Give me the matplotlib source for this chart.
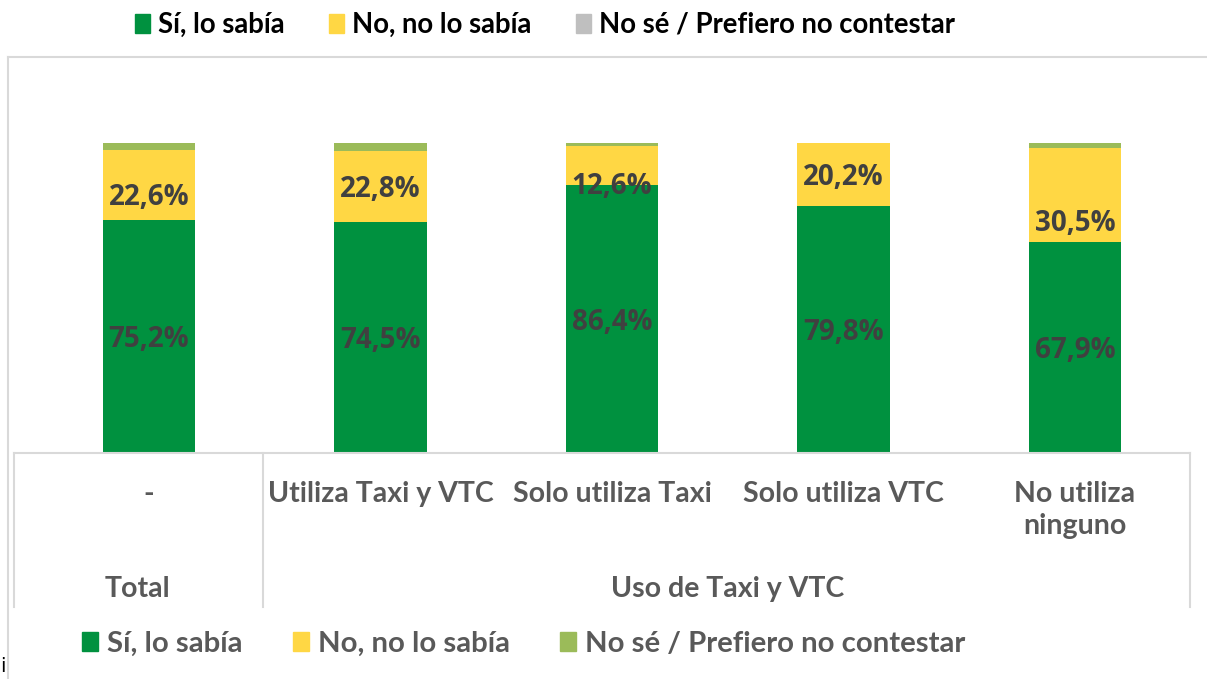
import numpy as np
import matplotlib.pyplot as plt
from matplotlib.patches import Patch
from matplotlib.lines import Line2D

# data (percent)
categories = ["-", "Utiliza Taxi y VTC", "Solo utiliza Taxi", "Solo utiliza VTC", "No utiliza\nninguno"]
groups = ["Total", "Uso de Taxi y VTC"]
si_sabia = [75.2, 74.5, 86.4, 79.8, 67.9]
no_sabia = [22.6, 22.8, 12.6, 20.2, 30.5]
ns_nc = [2.2, 2.7, 1.0, 0.0, 1.6]
series_names = ["Sí, lo sabía", "No, no lo sabía", "No sé / Prefiero no contestar"]

# label nudges (px, downwards) for the yellow labels, as they sit in the original
no_label_nudge = [13, 3, 21, 3, 28]

GREEN = "#00913f"
YELLOW = "#ffd744"
LIGHT_GREEN = "#9bbb59"
GREY_MARK = "#bfbfbf"
LABEL_COLOR = "#404040"
AXIS_TEXT = "#595959"
LINE_COLOR = "#d9d9d9"

W, H = 1207, 679
fig = plt.figure(figsize=(W / 100, H / 100), dpi=100)


def fx(px):
    return px / W


def fy(py):
    return 1 - py / H


# chart area border (top and left edges visible)
fig.add_artist(Line2D([fx(8), fx(W)], [fy(57), fy(57)], color=LINE_COLOR, lw=1.5))
fig.add_artist(Line2D([fx(8), fx(8)], [fy(57), fy(H)], color=LINE_COLOR, lw=1.5))

ax = fig.add_axes([fx(14), fy(453), fx(1190) - fx(14), (453 - 57) / H])
ax.set_xlim(-0.583, 4.497)
ax.set_ylim(0, 127.7)
ax.axis("off")

x = np.arange(len(categories))
si = np.array(si_sabia)
no = np.array(no_sabia)
ns = np.array(ns_nc)
bw = 0.40
ax.bar(x, si, bw, color=GREEN, edgecolor="none")
ax.bar(x, no, bw, bottom=si, color=YELLOW, edgecolor="none")
ax.bar(x, ns, bw, bottom=si + no, color=LIGHT_GREEN, edgecolor="none")

px_per_unit = 310 / 100.0


def dy(py):
    return (453 - py) / px_per_unit


lab_font = dict(family=["Open Sans", "DejaVu Sans"], fontsize=20, fontweight="bold", color=LABEL_COLOR)
for i in x:
    ax.text(i, si[i] / 2 - 3 / px_per_unit, f"{si[i]:.1f}%".replace(".", ","),
            ha="center", va="center", **lab_font)
    ax.text(i, si[i] + no[i] / 2 - no_label_nudge[i] / px_per_unit, f"{no[i]:.1f}%".replace(".", ","),
            ha="center", va="center", **lab_font)

# multi-level category axis
ax.plot([-0.583, 4.497], [0, 0], color=LINE_COLOR, lw=1.5, clip_on=False)
for xv in [-0.583, 0.492, 4.497]:
    ax.plot([xv, xv], [0, dy(607)], color=LINE_COLOR, lw=1.5, clip_on=False)

cat_font = dict(family=["Lato", "DejaVu Sans"], fontsize=20.5, fontweight="bold", color=AXIS_TEXT)
for i, c in enumerate(categories):
    ax.text(i, dy(481), c, ha="center", va="top", linespacing=1.3, clip_on=False, **cat_font)
ax.text(0 - 0.05, dy(589), groups[0], ha="center", va="center", clip_on=False, **cat_font)
ax.text(2.5, dy(589), groups[1], ha="center", va="center", clip_on=False, **cat_font)

# legends
top_handles = [Patch(color=GREEN), Patch(color=YELLOW), Patch(color=GREY_MARK)]
fig.legend(top_handles, series_names, loc="center left", bbox_to_anchor=(fx(135), fy(25)),
           ncol=3, frameon=False, borderpad=0, borderaxespad=0, handlelength=0.55,
           handleheight=0.65, handletextpad=0.3, columnspacing=1.6,
           prop=dict(family=["Lato", "DejaVu Sans"], size=19.8, weight="bold"))

bot_handles = [Patch(color=GREEN), Patch(color=YELLOW), Patch(color=LIGHT_GREEN)]
leg_bot = fig.legend(bot_handles, series_names, loc="center left", bbox_to_anchor=(fx(82), fy(644)),
                     ncol=3, frameon=False, borderpad=0, borderaxespad=0, handlelength=0.55,
                     handleheight=0.65, handletextpad=0.3, columnspacing=1.7,
                     prop=dict(family=["Lato", "DejaVu Sans"], size=21.2, weight="bold"))
for t in leg_bot.get_texts():
    t.set_color(AXIS_TEXT)

# stray character at the bottom-left corner of the original
fig.text(fx(0), fy(667), "i", fontsize=14, color="black", ha="left", va="center")

fig.savefig("out.png", dpi=100)
